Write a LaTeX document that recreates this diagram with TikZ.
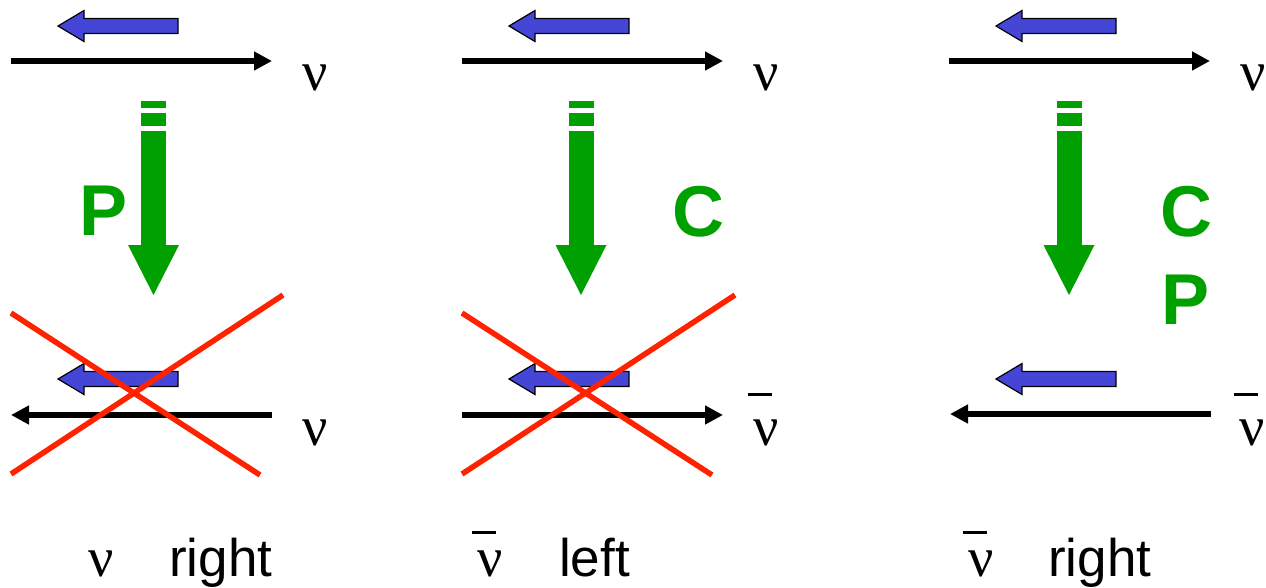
\documentclass[tikz,border=0pt]{standalone}
\usepackage{fontspec}
\setmainfont{Liberation Sans}
\newfontfamily\nufont{Liberation Serif}
\usepackage{xcolor}
\usetikzlibrary{arrows.meta}
\definecolor{spinblue}{HTML}{4646D6}
\definecolor{pcgreen}{HTML}{00A000}
\definecolor{crossred}{HTML}{FF2200}
\newcommand\nusym{ν}
\newcommand\nubar[1][49pt]{\rlap{\kern-5pt\raisebox{#1}{\rule{24pt}{2.6pt}}}ν}

\begin{document}
\begin{tikzpicture}[
    x=1pt,y=-1pt,
    ray/.style    = {-{Triangle[length=18pt,width=18pt]},line width=6pt,black},
    veto/.style   = {crossred,line width=5.5pt},
    nulab/.style  = {font=\nufont\fontsize{56}{66}\selectfont,anchor=base,inner sep=0pt},
    oplab/.style  = {font=\bfseries\fontsize{72}{86}\selectfont,text=pcgreen,anchor=base,inner sep=0pt},
    word/.style   = {font=\fontsize{53}{62}\selectfont,anchor=base west,inner sep=0pt},
    spin/.pic     = {\draw[fill=spinblue,line width=1.2pt,line join=miter]
                      (0,0) -- (26,-15.5) -- (26,-7.5) -- (120,-7.5) -- (120,7.5)
                      -- (26,7.5) -- (26,15.5) -- cycle;},
    flip/.pic     = {\fill[pcgreen] (-12.5,0) rectangle (12.5,7);
                     \fill[pcgreen] (-12.5,12) rectangle (12.5,25);
                     \fill[pcgreen] (-12.5,30) rectangle (12.5,144);
                     \fill[pcgreen] (-25.5,144) -- (25.5,144) -- (0,194) -- cycle;},
  ]
  \useasboundingbox (0,0) rectangle (1266,587);

  % top row, the same in all three panels
  \foreach \i/\dx in {1/0,2/451,3/938} {
    \coordinate (ta\i) at (11+\dx,61);
    \coordinate (tb\i) at (272+\dx,61);
    \node[nulab] (tn\i) at (315+\dx,90) {\nusym};
    \draw[ray] (ta\i) -- (tb\i);
    \pic at (58+\dx,26) {spin};
    \pic at (58+\dx,379) {spin};
  }

  % transformations
  \foreach \gx in {153.5,581,1069} \pic at (\gx,101) {flip};
  \node[oplab] (opP)  at (104,235)  {P};
  \node[oplab] (opC)  at (698,236)  {C};
  \node[oplab] (opC3) at (1186,236) {C};
  \node[oplab] (opP3) at (1185,324) {P};

  % bottom row
  \coordinate (ba1) at (11,415);   \coordinate (bb1) at (272,415);
  \coordinate (ba2) at (462,415);  \coordinate (bb2) at (723,415);
  \coordinate (ba3) at (950,414);  \coordinate (bb3) at (1211,414);
  \draw[ray] (bb1) -- (ba1);
  \draw[ray] (ba2) -- (bb2);
  \draw[ray] (bb3) -- (ba3);
  \node[nulab] (bn1) at (315,445)  {\nusym};
  \node[nulab] (bn2) at (766,445)  {\nubar};
  \node[nulab] (bn3) at (1252,445) {\nubar};

  % forbidden states
  \draw[veto] (11,313) -- (260,475);
  \draw[veto] (11,474) -- (283,295);
  \draw[veto] (462,313) -- (712,475);
  \draw[veto] (462,474) -- (735,295);

  % captions
  \node[nulab] (cn1) at (101,576) {\nusym};
  \node[word]  (cw1) at (169,576) {right};
  \node[nulab] (cn2) at (490,576) {\nubar[42pt]};
  \node[word]  (cw2) at (559,576) {left};
  \node[nulab] (cn3) at (981,576) {\nubar[42pt]};
  \node[word]  (cw3) at (1048,576) {right};

\end{tikzpicture}
\end{document}
